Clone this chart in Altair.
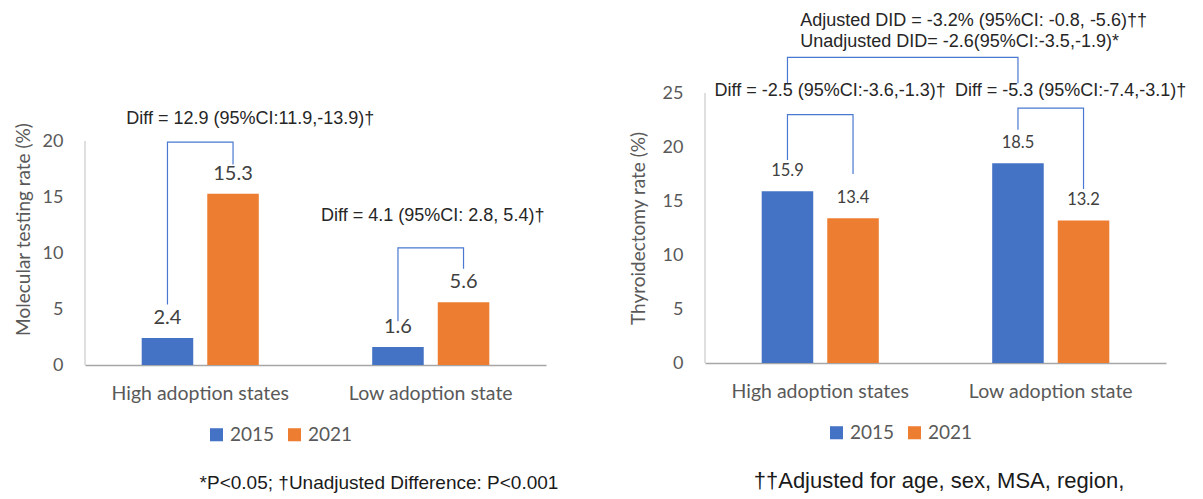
import altair as alt
import pandas as pd

# ---------------- data ----------------
categories = ["High adoption states", "Low adoption state"]
years = ["2015", "2021"]
molecular_2015 = [2.4, 1.6]
molecular_2021 = [15.3, 5.6]
thyroid_2015 = [15.9, 18.5]
thyroid_2021 = [13.4, 13.2]
colors = ["#4472C4", "#ED7D31"]

left_ticks = [0, 5, 10, 15, 20]
right_ticks = [0, 5, 10, 15, 20, 25]

# bracket annotations: (id, [(category, year, level), ...])
left_brackets = [
    ("h", [(categories[0], "2015", 5.4), (categories[0], "2015", 19.9),
           (categories[0], "2021", 19.9), (categories[0], "2021", 17.9)]),
    ("l", [(categories[1], "2015", 3.9), (categories[1], "2015", 10.45),
           (categories[1], "2021", 10.45), (categories[1], "2021", 8.6)]),
]
right_brackets = [
    ("h", [(categories[0], "2015", 18.8), (categories[0], "2015", 23.0),
           (categories[0], "2021", 23.0), (categories[0], "2021", 17.5)]),
    ("l", [(categories[1], "2015", 21.6), (categories[1], "2015", 23.6),
           (categories[1], "2021", 23.6), (categories[1], "2021", 16.1)]),
    ("d", [(categories[0], "2015", 25.9), (categories[0], "2015", 28.3),
           (categories[1], "2015", 28.3), (categories[1], "2015", 25.9)]),
]

GRAY = "#595959"
CAL = "Lato"
ARIAL = "Liberation Sans"


def bars_df(v15, v21):
    rows = []
    for c, a, b in zip(categories, v15, v21):
        rows.append({"category": c, "year": years[0], "value": a, "label": f"{a:.1f}"})
        rows.append({"category": c, "year": years[1], "value": b, "label": f"{b:.1f}"})
    return pd.DataFrame(rows)


def bracket_df(brackets):
    rows = []
    for bid, pts in brackets:
        for i, (cat, yr, lvl) in enumerate(pts):
            rows.append({"bid": bid, "category": cat, "year": yr, "value": lvl, "ord": i})
    return pd.DataFrame(rows)


ONE = pd.DataFrame({"k": [0]})


def panel(df, brk, ymax, axis_top, ticks, ytitle, height, title_pad,
          value_size, annotations, footnote, foot_size, foot_x):
    xenc = alt.X("category:N", sort=categories,
                 scale=alt.Scale(paddingInner=0.492, paddingOuter=0.246),
                 axis=alt.Axis(title=None, labelAngle=0, labelFont=CAL,
                               labelFontSize=19.5, labelColor=GRAY, labelPadding=19,
                               ticks=False, grid=False, domainColor="#A6A6A6",
                               domainWidth=1.5))
    xoff = alt.XOffset("year:N", sort=years,
                       scale=alt.Scale(paddingInner=0.214, paddingOuter=0))
    yenc = alt.Y("value:Q",
                 scale=alt.Scale(domain=[0, ymax], nice=False, zero=True),
                 axis=alt.Axis(values=ticks, domain=False, grid=False, ticks=False,
                               title=ytitle, titleFont=CAL, titleFontSize=19,
                               titleFontWeight="normal", titleColor=GRAY,
                               titlePadding=title_pad, labelFont=CAL,
                               labelFontSize=18, labelColor=GRAY, labelPadding=22))
    base = alt.Chart(df)
    bars = base.mark_bar().encode(
        x=xenc, xOffset=xoff, y=yenc,
        color=alt.Color("year:N", scale=alt.Scale(domain=years, range=colors),
                        legend=alt.Legend(title=None, orient="none", legendX=122,
                                          legendY=height + 60, direction="horizontal",
                                          symbolType="square", symbolSize=170,
                                          symbolStrokeWidth=0, labelFont=CAL,
                                          labelFontSize=19, labelColor=GRAY,
                                          columnPadding=10, labelOffset=4)),
    )
    labels = base.mark_text(font=CAL, fontSize=value_size, color="#404040",
                            baseline="middle", dy=-20).encode(
        x=alt.X("category:N", sort=categories), xOffset=alt.XOffset("year:N", sort=years),
        y=alt.Y("value:Q"), text="label:N")
    yline = alt.Chart(ONE).mark_rule(color="#BFBFBF", strokeWidth=1).encode(
        x=alt.value(0), y=alt.datum(0), y2=alt.datum(axis_top))
    lines = alt.Chart(brk).mark_line(color="#4A78D0", strokeWidth=1.2).encode(
        x=alt.X("category:N", sort=categories),
        xOffset=alt.XOffset("year:N", sort=years),
        y=alt.Y("value:Q"), detail="bid:N", order="ord:Q")
    layers = [bars, yline, lines, labels]
    for cat, lvl, txt, dx, align in annotations:
        adf = pd.DataFrame({"category": [cat], "value": [lvl], "t": [txt]})
        layers.append(alt.Chart(adf).mark_text(font=ARIAL, fontSize=18, color="#262626",
                                               align=align, baseline="middle", dx=dx).encode(
            x=alt.X("category:N", sort=categories), y=alt.Y("value:Q"), text="t:N"))
    layers.append(alt.Chart(ONE).mark_text(font=ARIAL, fontSize=foot_size, color="#1a1a1a",
                                           align="center", baseline="middle").encode(
        x=alt.value(foot_x), y=alt.value(height + 118), text=alt.value(footnote)))
    return alt.layer(*layers).properties(
        width=461, height=height, view=alt.ViewBackground(stroke=None, strokeWidth=0))


left = panel(
    bars_df(molecular_2015, molecular_2021), bracket_df(left_brackets),
    ymax=20 * 272 / 224, axis_top=20, ticks=left_ticks,
    ytitle="Molecular testing rate (%)", height=272, title_pad=9, value_size=20,
    annotations=[
        (categories[0], 21.96, "Diff = 12.9 (95%CI:11.9,-13.9)\u2020", 50, "center"),
        (categories[1], 13.3, "Diff = 4.1 (95%CI: 2.8, 5.4)\u2020", 2, "center"),
    ],
    footnote="*P<0.05; \u2020Unadjusted  Difference: P<0.001", foot_size=19, foot_x=294,
)

right = panel(
    bars_df(thyroid_2015, thyroid_2021), bracket_df(right_brackets),
    ymax=25, axis_top=25, ticks=right_ticks,
    ytitle="Thyroidectomy rate (%)", height=270, title_pad=14, value_size=16.5,
    annotations=[
        (categories[0], 25.19, "Diff = -2.5 (95%CI:-3.6,-1.3)\u2020", 10, "center"),
        (categories[1], 25.19, "Diff = -5.3 (95%CI:-7.4,-3.1)\u2020", 20, "center"),
        (categories[0], 31.67, "Adjusted DID = -3.2% (95%CI:  -0.8, -5.6)\u2020\u2020", -20, "left"),
        (categories[0], 29.72, "Unadjusted  DID= -2.6(95%CI:-3.5,-1.9)*", -20, "left"),
    ],
    footnote="\u2020\u2020Adjusted for age, sex, MSA, region,", foot_size=22, foot_x=234,
)

chart = alt.hconcat(left, right, spacing=159, bounds="flush").resolve_scale(
    color="independent"
).properties(
    padding={"left": 6, "top": 3, "right": 5, "bottom": 5}, background="white"
).configure_view(stroke=None, strokeWidth=0)

chart.save("out.html", embed_options={"renderer": "svg", "actions": False})
